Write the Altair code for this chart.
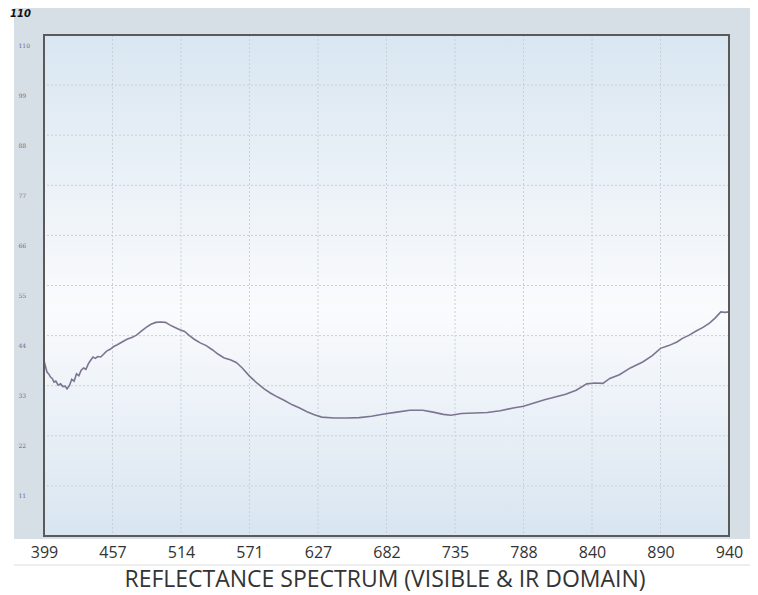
import altair as alt
import pandas as pd

# ---- data ----
wl_ticks = [399, 457, 514, 571, 627, 682, 735, 788, 840, 890, 940]
y_ticks = [11, 22, 33, 44, 55, 66, 77, 88, 99, 110]

wavelength = [399.0, 400.0, 401.5, 403.0, 404.5, 406.0, 407.5, 409.0, 411.0, 413.0,
              415.0, 417.0, 418.5, 420.5, 422.5, 424.5, 426.5, 428.5, 430.5, 432.5,
              434.5, 436.5, 438.5, 440.5, 442.5, 444.5, 447.0, 449.0, 452.0, 455.0,
              458.0, 461.0, 465.0, 469.0, 473.0, 477.0, 481.0, 485.0, 489.0, 493.0,
              497.0, 501.0, 505.0, 509.0, 513.0, 517.0, 521.0, 525.0, 530.0, 535.0,
              540.0, 545.0, 550.0, 555.0, 560.0, 565.0, 571.0, 577.0, 583.0, 588.0,
              594.0, 600.0, 606.0, 612.0, 618.0, 624.0, 630.0, 640.0, 650.0, 660.0,
              670.0, 680.0, 690.0, 700.0, 710.0, 718.0, 726.0, 732.0, 740.0, 750.0,
              760.0, 770.0, 780.0, 788.0, 796.0, 804.0, 812.0, 820.0, 828.0, 836.0,
              842.0, 848.0, 853.0, 860.0, 868.0, 877.0, 884.0, 890.0, 896.0, 902.0,
              906.0, 911.0, 916.0, 921.0, 926.0, 930.0, 934.0, 937.0, 940.0]
reflectance = [38.5, 37.5, 36.0, 35.6, 34.9, 34.6, 33.8, 34.0, 33.1, 33.4,
               32.8, 32.9, 32.3, 33.0, 34.4, 34.0, 35.6, 35.2, 36.4, 36.9,
               36.6, 37.8, 38.6, 39.3, 39.0, 39.4, 39.3, 39.8, 40.6, 41.0,
               41.6, 42.0, 42.6, 43.2, 43.6, 44.1, 45.0, 45.8, 46.5, 46.9,
               47.0, 46.9, 46.3, 45.8, 45.3, 44.9, 44.0, 43.2, 42.4, 41.8,
               40.9, 39.9, 39.1, 38.7, 38.1, 36.9, 35.1, 33.6, 32.3, 31.4,
               30.5, 29.7, 28.8, 28.1, 27.3, 26.6, 26.1, 25.9, 25.9, 26.0,
               26.3, 26.8, 27.2, 27.6, 27.6, 27.2, 26.7, 26.5, 26.9, 27.0,
               27.1, 27.5, 28.1, 28.5, 29.2, 29.9, 30.5, 31.1, 32.0, 33.4,
               33.6, 33.5, 34.6, 35.4, 36.9, 38.2, 39.6, 41.2, 41.8, 42.6,
               43.4, 44.1, 45.0, 45.8, 46.8, 47.9, 49.2, 49.1, 49.2]

corner_label = "110"
title_text = "REFLECTANCE SPECTRUM (VISIBLE & IR DOMAIN)"

W, H = 685, 501

df = pd.DataFrame({"wl": wavelength, "r": reflectance})
xgrid = pd.DataFrame({"wl": wl_ticks[1:-1]})
ygrid = pd.DataFrame({"r": y_ticks[:-1]})
one = pd.DataFrame({"k": [0]})

xscale = alt.Scale(domain=wl_ticks, range=[i * W / 10 for i in range(11)])
yscale = alt.Scale(domain=[0, 110], nice=False, zero=True)

xaxis = alt.Axis(values=wl_ticks, format="d", title=None, grid=False, domain=False,
                 ticks=False, tickSize=0, labelPadding=8, labelFontSize=16,
                 labelColor="#333333", labelFont="Open Sans", labelFlush=False, zindex=1)
yaxis = alt.Axis(values=y_ticks, format="d", title=None, grid=False, domain=False,
                 ticks=False, tickSize=0, labelAlign="left", labelPadding=26,
                 labelBaseline="middle", labelOffset=10, labelFontSize=6,
                 labelColor="#5a6e98", labelFont="DejaVu Serif", zindex=1)

panel = alt.Chart(one).mark_rect(color="#d6dee6").encode(
    x=alt.value(-30), x2=alt.value(706), y=alt.value(-29), y2=alt.value(504)
)

grad = alt.LinearGradient(
    gradient="linear", x1=0, x2=0, y1=0, y2=1,
    stops=[
        alt.GradientStop(offset=0, color="#d9e6f1"),
        alt.GradientStop(offset=0.55, color="#fafbfd"),
        alt.GradientStop(offset=1, color="#d8e5f0"),
    ],
)
plotbg = alt.Chart(one).mark_rect(fill=grad).encode(
    x=alt.value(0), x2=alt.value(W), y=alt.value(0), y2=alt.value(H)
)

vgrid = alt.Chart(xgrid).mark_rule(color="#c9d0d8", strokeDash=[2, 2], strokeWidth=1).encode(
    x=alt.X("wl:Q", scale=xscale, axis=xaxis)
)
hgrid = alt.Chart(ygrid).mark_rule(color="#c9d0d8", strokeDash=[2, 2], strokeWidth=1).encode(
    y=alt.Y("r:Q", scale=yscale, axis=yaxis)
)

line = alt.Chart(df).mark_line(color="#7d7491", strokeWidth=1.6).encode(
    x=alt.X("wl:Q", scale=xscale, axis=xaxis),
    y=alt.Y("r:Q", scale=yscale, axis=yaxis),
)

frame = alt.Chart(one).mark_rect(fillOpacity=0, stroke="#5a5a5a", strokeWidth=2).encode(
    x=alt.value(0), x2=alt.value(W), y=alt.value(0), y2=alt.value(H)
)

sep = alt.Chart(one).mark_rule(color="#dddddd", strokeWidth=1).encode(
    x=alt.value(-30), x2=alt.value(706), y=alt.value(530)
)

corner = alt.Chart(pd.DataFrame({"t": [corner_label]})).mark_text(
    align="left", baseline="middle", fontSize=10, fontWeight="bold", fontStyle="italic",
    color="#111111", font="DejaVu Sans"
).encode(x=alt.value(-34), y=alt.value(-21), text="t:N")

title = alt.Chart(pd.DataFrame({"t": [title_text]})).mark_text(
    align="center", baseline="middle", fontSize=23, color="#333333", font="Open Sans"
).encode(x=alt.value(341), y=alt.value(545), text="t:N")

chart = alt.layer(panel, plotbg, vgrid, hgrid, line, frame, sep, corner, title).properties(
    width=W, height=H,
    autosize=alt.AutoSizeParams(type="none"),
    padding={"left": 36, "top": 27, "right": 21, "bottom": 58},
    background="white",
).configure_view(stroke=None)

chart.save("out.html", embed_options={"renderer": "svg", "actions": False})
